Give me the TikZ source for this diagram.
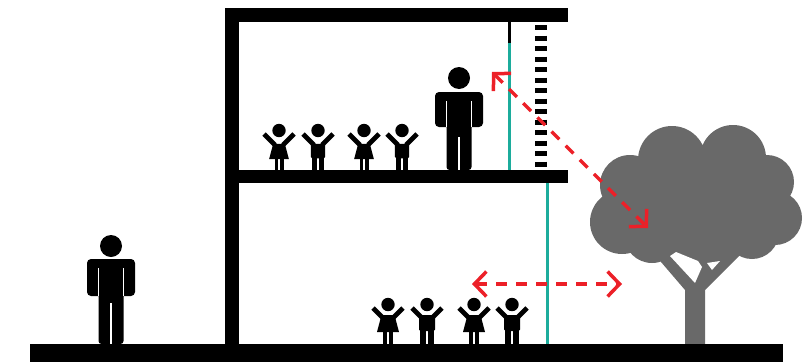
\documentclass[tikz,border=0pt]{standalone}
\usetikzlibrary{arrows.meta}
\definecolor{glass}{RGB}{28,172,156}
\definecolor{viewred}{RGB}{236,32,40}
\definecolor{treegray}{RGB}{105,105,105}

% standing adult: x, floor y, head centre height, shoulder height, arm end height, leg split height
\newcommand{\adultfig}[6]{%
  \fill (#1,{#2-#3}) circle[radius=11];
  \fill[rounded corners=4] ({#1-24},{#2-#4}) rectangle ({#1+24},{#2-#5});
  \fill[rounded corners=3] ({#1-12.5},{#2-#5-4}) rectangle ({#1+12.5},{#2});
  \draw[white,line width=1.6pt] ({#1-12.5},{#2-#4+9}) -- ({#1-12.5},{#2-#5});
  \draw[white,line width=1.6pt] ({#1+12.5},{#2-#4+9}) -- ({#1+12.5},{#2-#5});
  \draw[white,line width=1.8pt] (#1,{#2-#6}) -- (#1,{#2});
}

\tikzset{
  slab/.style={fill=black},
  pane/.style={draw=glass,line width=3pt},
  viewarrow/.style={draw=viewred,line width=3.3pt,dash pattern=on 11pt off 9pt,
    {Straight Barb[length=12pt,width=25pt,line width=3.5pt]}-{Straight Barb[length=12pt,width=25pt,line width=3.5pt]}},
  kidarms/.pic={
    \draw[line width=4.8pt] (-4,-25) -- (-15,-36);
    \draw[line width=4.8pt] (4,-25) -- (15,-36);
    \fill (0,-39.5) circle[radius=6.7];
  },
  girl/.pic={
    \pic {kidarms};
    \fill (-6.5,-29) -- (6.5,-29) -- (11,-12) -- (-11,-12) -- cycle;
    \fill (-5,-13) rectangle (-1.3,0);
    \fill (1.3,-13) rectangle (5,0);
  },
  boy/.pic={
    \pic {kidarms};
    \fill[rounded corners=1.5] (-8,-29) rectangle (8,-13);
    \fill (-7,-14) rectangle (-1,0);
    \fill (1,-14) rectangle (7,0);
  }
}

\begin{document}
\begin{tikzpicture}[x=1pt,y=-1pt]
\useasboundingbox (0,0) rectangle (811,362);

% tree canopy
\fill[treegray]
  (672,160) circle[radius=34]
  (733,158) circle[radius=33]
  (630,185) circle[radius=30]
  (622,222) circle[radius=32]
  (652,235) circle[radius=28]
  (767,182) circle[radius=27]
  (775,218) circle[radius=27]
  (752,232) circle[radius=27]
  (705,205) circle[radius=55];
% trunk and branches
\fill[treegray] (655,255) -- (685,290) -- (685,344) -- (705,344) -- (705,290)
  -- (743,252) -- (700,245) -- cycle;
\fill[white] (670,256) -- (676,252) -- (698,261) -- (702,267) -- (695,283) -- cycle;
\fill[white] (707,263) -- (720,261) -- (712,270) -- cycle;

% building
\fill[slab] (225,8) rectangle (568,22);
\fill[slab] (225,170) rectangle (568,183);
\fill[slab] (225,8) rectangle (239,344);
% upper facade: stub, glass pane and slatted screen
\draw[line width=3pt] (509,22) -- (509,43);
\draw[pane] (509,43) -- (509,170);
\draw[line width=12pt,dash pattern=on 5pt off 5.5pt] (541,25) -- (541,170);
% lower facade glass pane
\draw[pane] (547,183) -- (547,344);

% ground
\fill[slab] (30,343.5) rectangle (783,362);

% people
\adultfig{111}{344}{98}{85}{48}{41}
\adultfig{459}{170}{92}{78}{43}{33}
\pic[scale=0.9] at (279,170) {girl};
\pic[scale=0.9] at (318,170) {boy};
\pic[scale=0.9] at (364,170) {girl};
\pic[scale=0.9] at (402,170) {boy};
\pic at (388,344) {girl};
\pic at (427,344) {boy};
\pic at (474,344) {girl};
\pic at (512,344) {boy};

% sight lines to the tree
\coordinate (upview) at (492,72);
\coordinate (canopy) at (648,228);
\coordinate (lowview) at (472,284);
\coordinate (treeside) at (622,284);
\draw[viewarrow] (upview) -- (canopy);
\draw[viewarrow] (lowview) -- (treeside);
\end{tikzpicture}
\end{document}
